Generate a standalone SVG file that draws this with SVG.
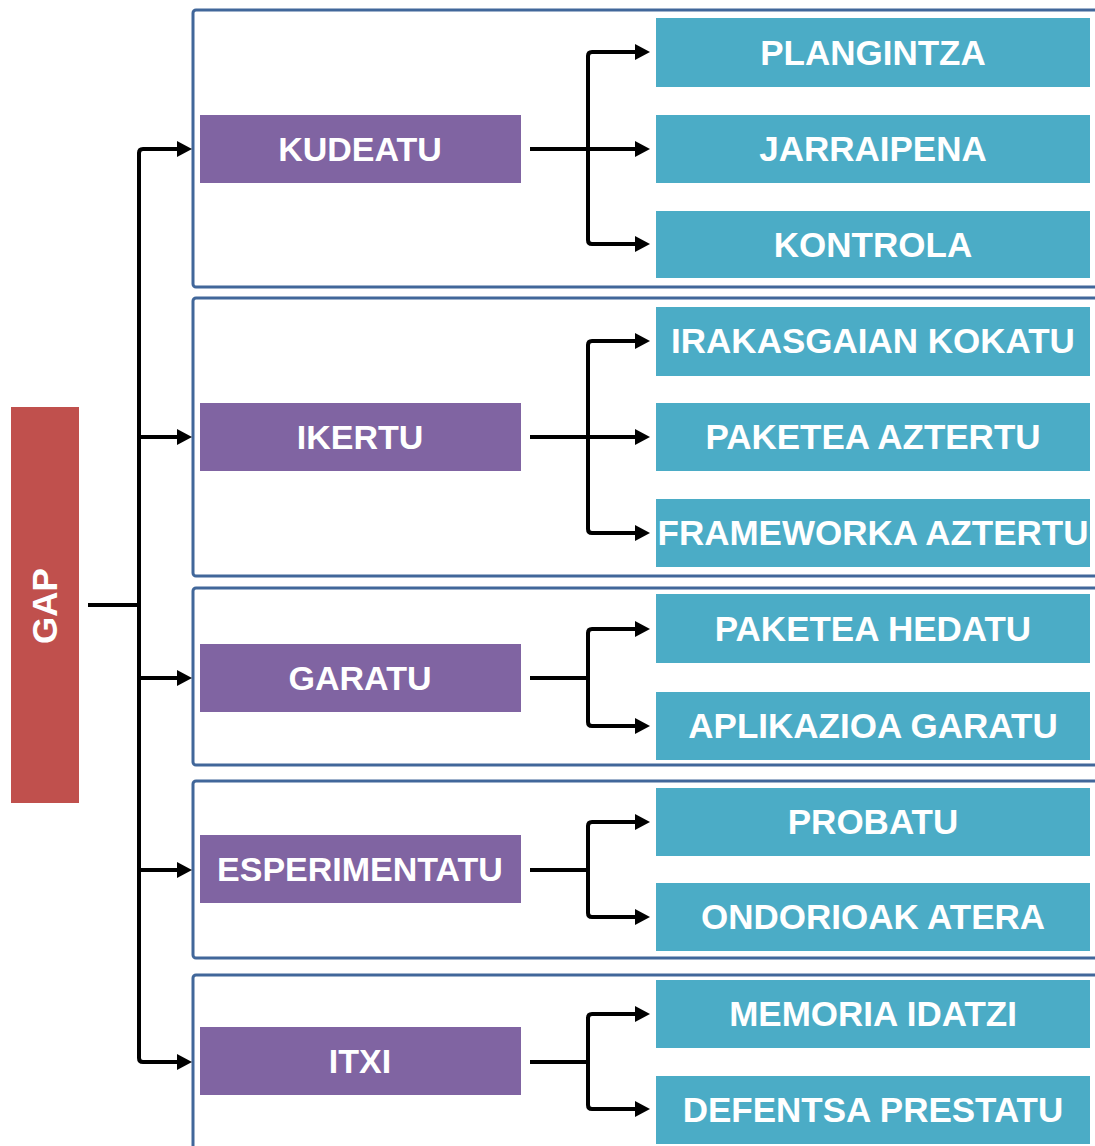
<svg xmlns="http://www.w3.org/2000/svg" width="1095" height="1146" viewBox="0 0 1095 1146">
<defs>
<style>
.frame{fill:#ffffff;stroke:#41679a;stroke-width:3}
.root{fill:#c0504d}
.mid{fill:#8064a2}
.leaf{fill:#4bacc6}
.t{fill:#ffffff;font-family:"Liberation Sans",Arial,sans-serif;font-weight:bold;text-anchor:middle}
.tl{font-size:35px}
.tm{font-size:34px}
.c{fill:none;stroke:#000000;stroke-width:4;stroke-linejoin:round}
.a{marker-end:url(#arr)}
</style>
<marker id="arr" markerUnits="userSpaceOnUse" markerWidth="16" markerHeight="16" refX="5" refY="8" orient="auto">
<path d="M0,0 L15,8 L0,16 z" fill="#000000"/>
</marker>
</defs>
<rect width="1095" height="1146" fill="#ffffff"/>
<g id="frames">
<rect class="frame" x="193" y="10" width="920" height="277" rx="3"/>
<rect class="frame" x="193" y="298" width="920" height="278" rx="3"/>
<rect class="frame" x="193" y="588" width="920" height="177" rx="3"/>
<rect class="frame" x="193" y="781" width="920" height="177" rx="3"/>
<rect class="frame" x="193" y="975" width="920" height="190" rx="3"/>
</g>
<g id="connectors">
<path class="c" d="M88,605 H139"/>
<path class="c a" d="M139,605 V153 Q139,149 143,149 H182"/>
<path class="c a" d="M139,605 V1058 Q139,1062 143,1062 H182"/>
<path class="c a" d="M139,437 H182"/>
<path class="c a" d="M139,678 H182"/>
<path class="c a" d="M139,870 H182"/>
<path class="c a" d="M530,149 H640"/>
<path class="c a" d="M588,149 V56 Q588,52 592,52 H640"/>
<path class="c a" d="M588,149 V240 Q588,244 592,244 H640"/>
<path class="c a" d="M530,437 H640"/>
<path class="c a" d="M588,437 V345 Q588,341 592,341 H640"/>
<path class="c a" d="M588,437 V529 Q588,533 592,533 H640"/>
<path class="c" d="M530,678 H588"/>
<path class="c a" d="M588,678 V633 Q588,629 592,629 H640"/>
<path class="c a" d="M588,678 V722 Q588,726 592,726 H640"/>
<path class="c" d="M530,870 H588"/>
<path class="c a" d="M588,870 V826 Q588,822 592,822 H640"/>
<path class="c a" d="M588,870 V913 Q588,917 592,917 H640"/>
<path class="c" d="M530,1062 H588"/>
<path class="c a" d="M588,1062 V1018 Q588,1014 592,1014 H640"/>
<path class="c a" d="M588,1062 V1105 Q588,1109 592,1109 H640"/>
</g>
<g id="gap">
<rect class="root" x="11" y="407" width="68" height="396"/>
<text class="t tl" transform="translate(57,606) rotate(-90)">GAP</text>
</g>
<g id="kudeatu"><rect class="mid" x="200" y="115" width="321" height="68"/><text class="t tm" x="360" y="161">KUDEATU</text></g>
<g id="ikertu"><rect class="mid" x="200" y="403" width="321" height="68"/><text class="t tm" x="360" y="449">IKERTU</text></g>
<g id="garatu"><rect class="mid" x="200" y="644" width="321" height="68"/><text class="t tm" x="360" y="690">GARATU</text></g>
<g id="esperimentatu"><rect class="mid" x="200" y="835" width="321" height="68"/><text class="t tm" x="360" y="881">ESPERIMENTATU</text></g>
<g id="itxi"><rect class="mid" x="200" y="1027" width="321" height="68"/><text class="t tm" x="360" y="1073">ITXI</text></g>
<g id="plangintza"><rect class="leaf" x="656" y="18" width="434" height="69"/><text class="t tl" x="873" y="65">PLANGINTZA</text></g>
<g id="jarraipena"><rect class="leaf" x="656" y="115" width="434" height="68"/><text class="t tl" x="873" y="161">JARRAIPENA</text></g>
<g id="kontrola"><rect class="leaf" x="656" y="211" width="434" height="67"/><text class="t tl" x="873" y="257">KONTROLA</text></g>
<g id="irakasgaian-kokatu"><rect class="leaf" x="656" y="307" width="434" height="69"/><text class="t tl" x="873" y="353">IRAKASGAIAN KOKATU</text></g>
<g id="paketea-aztertu"><rect class="leaf" x="656" y="403" width="434" height="68"/><text class="t tl" x="873" y="449">PAKETEA AZTERTU</text></g>
<g id="frameworka-aztertu"><rect class="leaf" x="656" y="499" width="434" height="68"/><text class="t tl" x="873" y="545">FRAMEWORKA AZTERTU</text></g>
<g id="paketea-hedatu"><rect class="leaf" x="656" y="594" width="434" height="69"/><text class="t tl" x="873" y="641">PAKETEA HEDATU</text></g>
<g id="aplikazioa-garatu"><rect class="leaf" x="656" y="692" width="434" height="68"/><text class="t tl" x="873" y="738">APLIKAZIOA GARATU</text></g>
<g id="probatu"><rect class="leaf" x="656" y="788" width="434" height="68"/><text class="t tl" x="873" y="834">PROBATU</text></g>
<g id="ondorioak-atera"><rect class="leaf" x="656" y="883" width="434" height="68"/><text class="t tl" x="873" y="929">ONDORIOAK ATERA</text></g>
<g id="memoria-idatzi"><rect class="leaf" x="656" y="980" width="434" height="68"/><text class="t tl" x="873" y="1026">MEMORIA IDATZI</text></g>
<g id="defentsa-prestatu"><rect class="leaf" x="656" y="1076" width="434" height="68"/><text class="t tl" x="873" y="1122">DEFENTSA PRESTATU</text></g>
</svg>
